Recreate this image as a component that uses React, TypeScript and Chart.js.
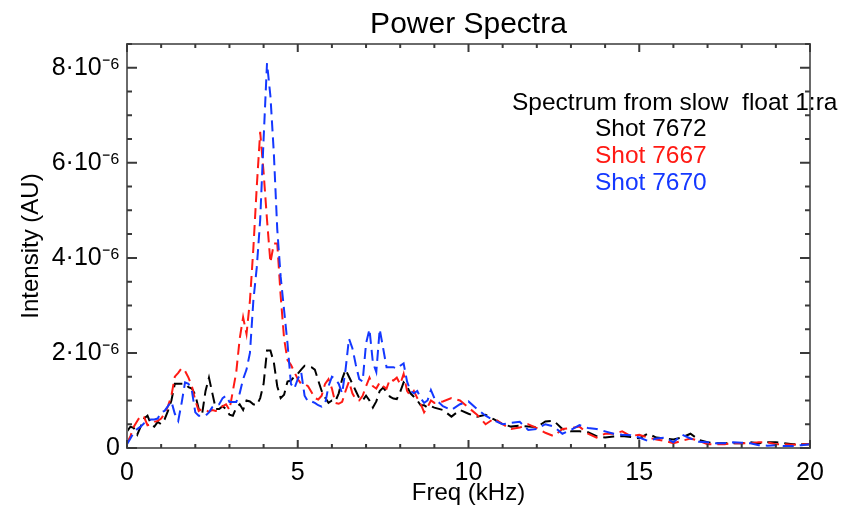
import React, { useEffect, useRef } from "react";
import { Chart, registerables } from "chart.js";

Chart.register(...registerables);

// Frequency samples (kHz)
const freq = [
  0.0, 0.1, 0.2, 0.3, 0.4, 0.5, 0.6, 0.7, 0.8, 0.9,
  1.0, 1.1, 1.2, 1.3, 1.4, 1.5, 1.6, 1.7, 1.8, 1.9,
  2.0, 2.1, 2.2, 2.3, 2.4, 2.5, 2.6, 2.7, 2.8, 2.9,
  3.0, 3.1, 3.2, 3.3, 3.4, 3.5, 3.6, 3.7, 3.8, 3.9,
  4.0, 4.1, 4.2, 4.3, 4.4, 4.5, 4.6, 4.7, 4.8, 4.9,
  5.0, 5.1, 5.2, 5.3, 5.4, 5.5, 5.6, 5.7, 5.8, 5.9,
  6.0, 6.1, 6.2, 6.3, 6.4, 6.5, 6.6, 6.7, 6.8, 6.9,
  7.0, 7.1, 7.2, 7.3, 7.4, 7.5, 7.6, 7.7, 7.8, 7.9,
  8.0, 8.1, 8.2, 8.3, 8.4, 8.5, 8.6, 8.7, 8.8, 8.9,
  9.0,
  9.25, 9.5, 9.75, 10.0, 10.25, 10.5, 10.75, 11.0, 11.25, 11.5, 11.75,
  12.0, 12.25, 12.5, 12.75, 13.0, 13.25, 13.5, 13.75, 14.0, 14.25, 14.5,
  14.75, 15.0, 15.25, 15.5, 15.75, 16.0, 16.25, 16.5, 16.75, 17.0, 17.25,
  17.5, 17.75, 18.0, 18.25, 18.5, 18.75, 19.0, 19.25, 19.5, 19.75, 20.0,
];

// Intensity values in units of 1e-6 AU
const shot7672 = [
  0.35, 0.45, 0.42, 0.28, 0.45, 0.62, 0.68, 0.5, 0.45, 0.55,
  0.5, 0.6, 0.78, 1.0, 1.35, 1.35, 1.35, 1.35, 1.28, 1.25,
  1.12, 0.82, 0.72, 1.2, 1.48, 1.15, 0.82, 0.82, 0.88, 0.82,
  0.7, 0.68, 0.85, 0.92, 0.8, 1.0, 0.98, 0.92, 0.9, 1.05,
  1.35, 2.05, 2.05, 1.8, 1.3, 1.05, 1.12, 1.4, 1.42, 1.5,
  1.56, 1.65, 1.73, 1.72, 1.7, 1.65, 1.42, 1.2, 1.06, 0.95,
  1.0, 0.98, 1.15, 1.45, 1.65, 1.5, 1.35, 1.2, 1.05, 1.0,
  1.1, 1.0, 0.85, 0.98, 1.2, 1.27, 1.18, 1.08, 1.04, 1.03,
  1.18, 1.38, 1.3, 1.15, 1.08, 1.0, 0.9, 0.9, 0.85, 0.88,
  0.85,
  0.8, 0.66, 0.8, 0.72, 0.66, 0.7, 0.6, 0.5, 0.45, 0.47, 0.45,
  0.44, 0.56, 0.57, 0.4, 0.35, 0.35, 0.33, 0.25, 0.22, 0.24, 0.25,
  0.23, 0.2, 0.3, 0.22, 0.2, 0.18, 0.22, 0.3, 0.17, 0.12, 0.1,
  0.1, 0.1, 0.1, 0.12, 0.1, 0.12, 0.12, 0.1, 0.08, 0.08, 0.08,
];

const shot7667 = [
  0.1, 0.25, 0.45, 0.57, 0.68, 0.65, 0.48, 0.5, 0.55, 0.57,
  0.62, 0.72, 0.88, 1.1, 1.5, 1.58, 1.68, 1.62, 1.48, 1.3,
  1.0, 0.78, 0.82, 0.8, 0.76, 0.8, 0.78, 0.8, 0.88, 0.92,
  0.8, 1.2, 1.6, 2.3, 2.75, 2.4, 3.1, 4.2, 5.5, 6.65,
  5.8, 4.8, 3.9, 4.3, 4.3, 3.2, 2.3, 1.85, 1.75, 1.6,
  1.45, 1.35, 1.35, 1.3, 1.18, 1.05, 1.02, 1.1, 1.35, 1.45,
  1.25, 0.95, 0.93, 0.97, 1.2, 1.4, 1.15, 1.02, 1.0, 1.1,
  1.3, 1.48, 1.3, 1.25, 1.38, 1.3, 1.25, 1.45, 1.42, 1.48,
  1.34, 1.56, 1.2, 1.1, 1.2, 1.05, 0.93, 0.75, 0.86, 1.0,
  0.95,
  0.98, 1.05, 1.0, 0.85, 0.7, 0.5, 0.62, 0.5, 0.4, 0.43, 0.5,
  0.42, 0.32, 0.25, 0.4, 0.42, 0.45, 0.3, 0.22, 0.3, 0.3, 0.35,
  0.25, 0.28, 0.22, 0.18, 0.15, 0.1, 0.15, 0.2, 0.15, 0.08, 0.08,
  0.08, 0.1, 0.1, 0.1, 0.12, 0.12, 0.08, 0.08, 0.07, 0.08, 0.08,
];

const shot7670 = [
  0.08, 0.2, 0.33, 0.4, 0.45, 0.52, 0.57, 0.6, 0.6, 0.62,
  0.75, 0.78, 0.88, 0.98, 0.72, 0.57, 0.95, 1.38, 1.35, 1.2,
  0.75, 0.68, 0.68, 0.68, 0.75, 0.86, 0.9, 0.92, 1.05, 1.1,
  0.97, 0.97, 0.97, 1.15, 1.45, 1.65, 2.0, 3.1, 3.8, 4.8,
  6.5, 8.1, 7.4, 6.2, 4.6, 3.6, 2.9, 2.2, 1.35, 1.25,
  1.45, 1.6, 1.1, 0.98, 0.98, 0.95, 0.9, 0.87, 0.92, 1.3,
  1.5, 1.45, 1.35, 1.15, 1.65, 2.3, 2.1, 1.75, 1.45, 1.4,
  2.2, 2.5, 1.8, 1.6, 2.5, 2.1, 1.7, 1.7, 1.7, 1.67,
  1.73, 1.78, 1.4, 1.2, 1.15, 1.2, 1.05, 0.95, 1.0, 1.22,
  1.05,
  0.88, 0.8, 0.92, 0.98, 0.82, 0.68, 0.58, 0.5, 0.53, 0.55, 0.38,
  0.4, 0.5, 0.45, 0.3, 0.38, 0.48, 0.42, 0.4, 0.35, 0.3, 0.28,
  0.27, 0.22, 0.15, 0.2, 0.22, 0.12, 0.28, 0.2, 0.13, 0.12, 0.1,
  0.1, 0.12, 0.11, 0.1, 0.06, 0.05, 0.06, 0.04, 0.04, 0.06, 0.08,
];

const seriesNames = ["Shot 7672", "Shot 7667", "Shot 7670"];
const seriesColors = ["#000000", "#ff1a14", "#1438ff"];
const legendHeading = "Spectrum from slow  float 1:ra";
const chartTitle = "Power Spectra";
const xTitle = "Freq (kHz)";
const yTitle = "Intensity (AU)";

const FONT = "'Liberation Sans', Arial, sans-serif";

const titlePlugin = {
  id: "plotTitle",
  afterDraw(chart: any) {
    const { ctx, chartArea } = chart;
    ctx.save();
    ctx.font = `30px ${FONT}`;
    ctx.fillStyle = "#000";
    ctx.textAlign = "center";
    ctx.textBaseline = "alphabetic";
    ctx.fillText(chartTitle, (chartArea.left + chartArea.right) / 2, 33);
    ctx.restore();
  },
};

const legendPlugin = {
  id: "textLegend",
  afterDraw(chart: any) {
    const { ctx } = chart;
    ctx.save();
    ctx.font = `24.5px ${FONT}`;
    ctx.textAlign = "left";
    ctx.textBaseline = "alphabetic";
    ctx.fillStyle = "#000";
    ctx.fillText(legendHeading, 512, 110);
    const baselines = [136, 163, 190];
    seriesNames.forEach((n, i) => {
      ctx.fillStyle = seriesColors[i];
      ctx.fillText(n, 595, baselines[i]);
    });
    ctx.restore();
  },
};

const framePlugin = {
  id: "frame",
  afterDatasetsDraw(chart: any) {
    const { ctx, chartArea: a, scales } = chart;
    const x = scales.x;
    const y = scales.y;
    ctx.save();
    ctx.strokeStyle = "#6a6a6a";
    ctx.lineWidth = 2;
    ctx.strokeRect(a.left, a.top, a.right - a.left, a.bottom - a.top);
    ctx.strokeStyle = "#3a3a3a";
    ctx.beginPath();
    for (let v = 0; v <= 20; v += 1) {
      const px = x.getPixelForValue(v);
      const len = v % 5 === 0 ? 8 : 4;
      ctx.moveTo(px, a.bottom);
      ctx.lineTo(px, a.bottom - len);
      ctx.moveTo(px, a.top);
      ctx.lineTo(px, a.top + len);
    }
    for (let k = 0; k <= 17; k += 1) {
      const v = k * 0.5;
      const py = y.getPixelForValue(v);
      const len = k % 4 === 0 ? 10 : 5;
      ctx.moveTo(a.left, py);
      ctx.lineTo(a.left + len, py);
      ctx.moveTo(a.right, py);
      ctx.lineTo(a.right - len, py);
    }
    ctx.stroke();
    ctx.restore();
  },
};

export default function App() {
  const ref = useRef<HTMLCanvasElement | null>(null);

  useEffect(() => {
    if (!ref.current) return;
    const series = [shot7672, shot7667, shot7670];
    const chart = new Chart(ref.current, {
      type: "line",
      data: {
        datasets: series.map((vals, i) => ({
          label: seriesNames[i],
          data: freq.map((f, j) => ({ x: f, y: vals[j] })),
          borderColor: seriesColors[i],
          borderWidth: 2,
          borderDash: [11, 6],
          pointRadius: 0,
          tension: 0,
          fill: false,
          order: 3 - i,
        })),
      },
      options: {
        animation: false,
        responsive: false,
        devicePixelRatio: 1,
        layout: { padding: { top: 44, right: 40, left: 0, bottom: 0 } },
        plugins: {
          legend: { display: false },
          tooltip: { enabled: false },
          title: { display: false },
        },
        scales: {
          x: {
            type: "linear",
            min: 0,
            max: 20,
            grid: { display: false, drawTicks: false },
            border: { display: false },
            ticks: {
              stepSize: 5,
              padding: 10,
              color: "#000",
              font: { family: FONT, size: 25 },
              maxRotation: 0,
              callback: (v: any) => String(v),
            },
            title: {
              display: true,
              text: xTitle,
              color: "#000",
              font: { family: FONT, size: 24 },
              padding: { top: 0, bottom: 3 },
            },
            afterFit: (s: any) => {
              s.height = 63;
            },
          },
          y: {
            type: "linear",
            min: 0,
            max: 8.5,
            grid: { display: false, drawTicks: false },
            border: { display: false },
            ticks: {
              stepSize: 2,
              includeBounds: false,
              padding: 7,
              color: "#000",
              font: { family: FONT, size: 25 },
              callback: (v: any) => (v === 0 ? "0" : `${v}·10⁻⁶`),
            },
            title: {
              display: true,
              text: yTitle,
              color: "#000",
              font: { family: FONT, size: 24 },
              padding: { top: 17, bottom: 0 },
            },
            afterFit: (s: any) => {
              s.width = 127;
            },
          },
        },
      },
      plugins: [framePlugin, titlePlugin, legendPlugin],
    });
    return () => chart.destroy();
  }, []);

  return (
    <div style={{ position: "absolute", left: 0, top: 0, width: 850, height: 511, background: "#fff" }}>
      <canvas ref={ref} width={850} height={511} />
    </div>
  );
}
